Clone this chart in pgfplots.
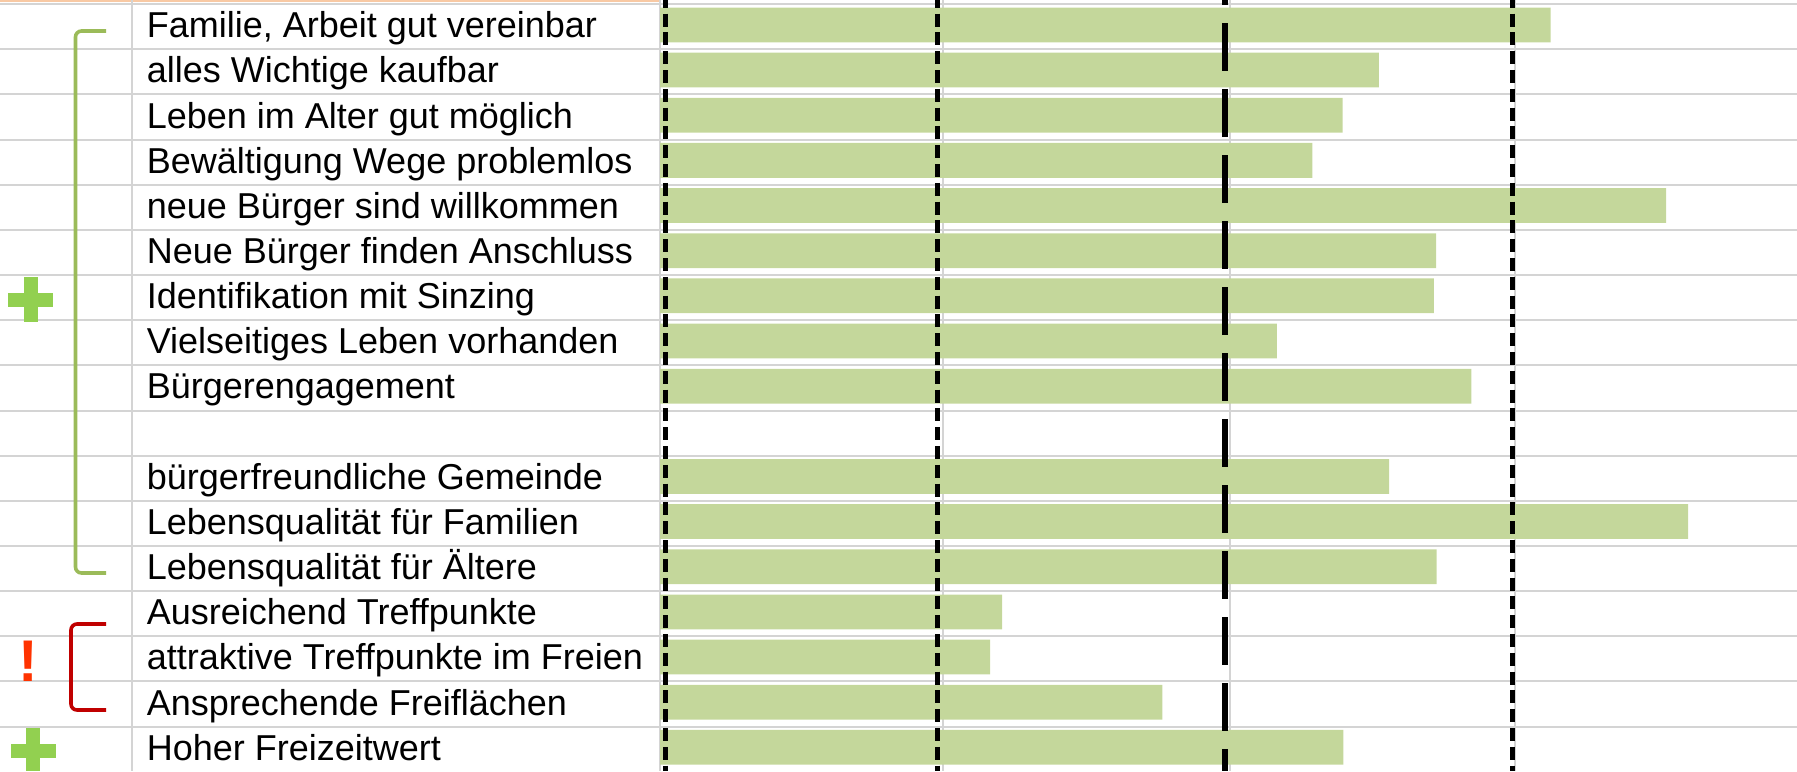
\documentclass[border=0pt]{standalone}
\usepackage{pgfplots}
\pgfplotsset{compat=1.18}
\usepackage{fontspec}
\setmainfont{Liberation Sans}
\definecolor{barg}{HTML}{C4D79B}
\definecolor{gridc}{HTML}{D4D4D4}
\definecolor{brkg}{HTML}{9BBB59}
\definecolor{brkr}{HTML}{C00000}
\definecolor{plusg}{HTML}{92D050}
\definecolor{excl}{HTML}{FF3300}
\definecolor{hdr}{HTML}{F8C9A4}
\newcommand\lbl{\fontsize{9.0}{10}\selectfont}

\begin{document}
\begin{tikzpicture}
\useasboundingbox (0pt,0pt) rectangle (449.25pt,-192.75pt);
\clip (0pt,0pt) rectangle (449.25pt,-192.75pt);
% pixel grid of the sheet: 1px = 0.25pt, y downwards
\begin{scope}[x=0.25pt,y=-0.25pt]
\fill[hdr] (0,0) rectangle (660,2);
\foreach \k in {0,...,16}
  \draw[gridc, line width=0.5pt] (0,{4.15+45.15*\k}) -- (1797,{4.15+45.15*\k});
\foreach \xx in {132,660,943,1230,1515}
  \draw[gridc, line width=0.5pt] (\xx,0) -- (\xx,771);
\end{scope}

\begin{axis}[
  at={(0pt,0pt)}, anchor=north west,
  hide axis, scale only axis,
  width=449.25pt, height=192.75pt,
  xmin=-2.31579, xmax=3.98947,
  ymin=0.40808, ymax=17.4845,
  y dir=reverse,
  xbar, bar width=0.77,
  clip=false,
]
\addplot[fill=barg, draw=none] coordinates {
  (3.125,0.96) (2.522,1.96) (2.395,2.96) (2.289,3.96)
  (3.530,4.96) (2.723,5.96) (2.715,6.96) (2.164,7.96)
  (2.847,8.96) (2.558,10.96) (3.607,11.96) (2.725,12.96)
  (1.200,13.96) (1.158,14.96) (1.763,15.96) (2.398,16.96)
};
\end{axis}

\begin{scope}[x=0.25pt,y=-0.25pt]
% reference lines
\foreach \xx in {665,937.5,1512.5}
  \draw[black, line width=1.25pt, dash pattern=on 3.25pt off 1.45pt, dash phase=1.3pt] (\xx,0) -- (\xx,771);
\draw[black, line width=1.5pt, dash pattern=on 12pt off 4.5pt, dash phase=10.75pt] (1225.3,0) -- (1225.3,771);

% row labels
\begin{scope}[every node/.style={anchor=base west, inner sep=0pt, font=\lbl}]
\node at (146,37.7) {Familie, Arbeit gut vereinbar};
\node at (146,82.9) {alles Wichtige kaufbar};
\node at (146,128.0) {Leben im Alter gut möglich};
\node at (146,173.2) {Bewältigung Wege problemlos};
\node at (146,218.3) {neue Bürger sind willkommen};
\node at (146,263.5) {Neue Bürger finden Anschluss};
\node at (146,308.6) {Identifikation mit Sinzing};
\node at (146,353.8) {Vielseitiges Leben vorhanden};
\node at (146,398.9) {Bürgerengagement};
\node at (146,489.2) {bürgerfreundliche Gemeinde};
\node at (146,534.4) {Lebensqualität für Familien};
\node at (146,579.5) {Lebensqualität für Ältere};
\node at (146,624.7) {Ausreichend Treffpunkte};
\node at (146,669.8) {attraktive Treffpunkte im Freien};
\node at (146,715.0) {Ansprechende Freiflächen};
\node at (146,760.1) {Hoher Freizeitwert};
\end{scope}

% brackets and markers
\draw[brkg, line width=0.9pt, rounded corners=1.5pt] (106,31) -- (75.5,31) -- (75.5,573) -- (106,573);
\draw[brkr, line width=0.9pt, rounded corners=1.5pt] (106,624) -- (71,624) -- (71,710) -- (106,710);
\fill[plusg] (8,292.5) rectangle (53,306.5);
\fill[plusg] (23.5,277) rectangle (37.5,322);
\fill[plusg] (10.5,743.5) rectangle (55.5,757.5);
\fill[plusg] (26,728) rectangle (40,771);
\node[anchor=base, inner sep=0pt, text=excl, font=\bfseries\fontsize{14.7}{16}\selectfont] at (28.5,681) {!};
\end{scope}
\end{tikzpicture}
\end{document}
